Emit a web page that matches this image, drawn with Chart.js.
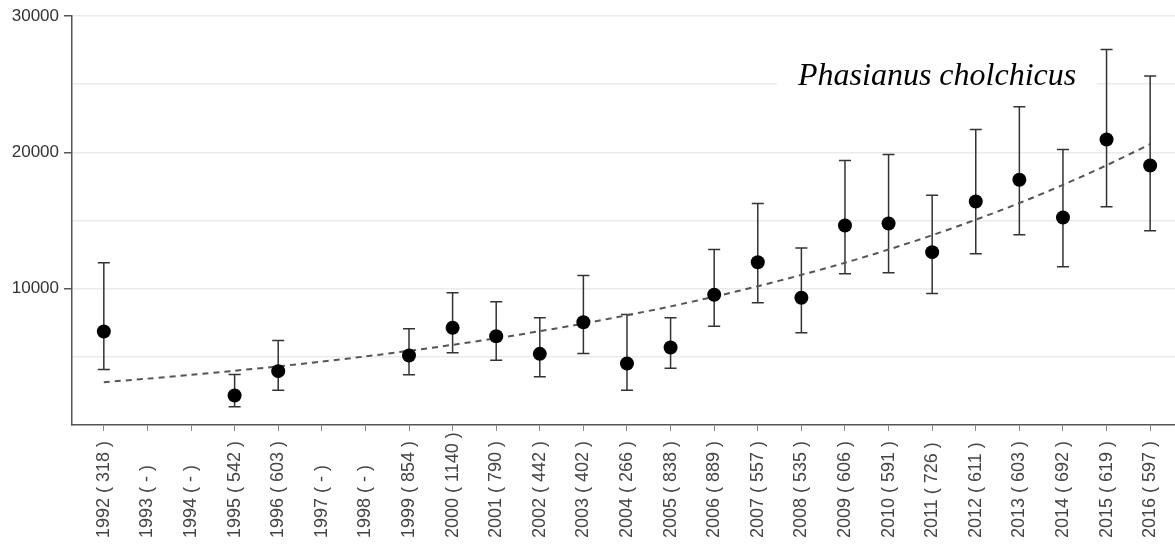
<!DOCTYPE html>
<html>
<head>
<meta charset="utf-8">
<script src="https://cdn.jsdelivr.net/npm/chart.js@4.4.0/dist/chart.umd.min.js"></script>
<style>
  html, body { margin: 0; padding: 0; background: #fff; }
  #wrap { width: 1175px; height: 544px; position: relative; }
</style>
</head>
<body>
<div id="wrap"><canvas id="pheasantChart"></canvas></div>
<script>
// Years and sample sizes (n) shown under each tick
const years = [1992, 1993, 1994, 1995, 1996, 1997, 1998, 1999, 2000, 2001, 2002, 2003, 2004,
               2005, 2006, 2007, 2008, 2009, 2010, 2011, 2012, 2013, 2014, 2015, 2016];
const sampleSizes = ['318', '-', '-', '542', '603', '-', '-', '854', '1140', '790', '442', '402', '266',
                     '838', '889', '557', '535', '606', '591', '726', '611', '603', '692', '619', '597'];

// Population index estimates with lower/upper limits
const estimates = [6860, null, null, 2160, 3950, null, null, 5100, 7130, 6510, 5220, 7540, 4510,
                   5680, 9550, 11940, 9330, 14630, 14780, 12680, 16390, 17990, 15220, 20940, 19030];
const lowerLimits = [4070, null, null, 1330, 2550, null, null, 3680, 5300, 4750, 3530, 5240, 2550,
                     4170, 7250, 8960, 6760, 11090, 11160, 9650, 12560, 13950, 11600, 16010, 14240];
const upperLimits = [11900, null, null, 3700, 6200, null, null, 7060, 9700, 9040, 7860, 10970, 8100,
                     7860, 12870, 16250, 12990, 19400, 19840, 16860, 21670, 23340, 20210, 27540, 25590];

// Dashed trend line values
const trendValues = [3140, 3400, 3680, 3980, 4300, 4650, 5030, 5440, 5880, 6360, 6880, 7440, 8050,
                     8700, 9410, 10180, 11010, 11900, 12870, 13920, 15060, 16280, 17610, 19050, 20600];

const yTicks = [0, 5000, 10000, 15000, 20000, 25000, 30000];
const speciesName = 'Phasianus cholchicus';

const tickLabels = years.map((y, i) => `${y} ( ${sampleSizes[i]} )`);

// error bars with caps, drawn under the points
const errorBarPlugin = {
    id: 'errorBars',
    beforeDatasetsDraw(chart) {
        const { ctx, scales: { x, y } } = chart;
        ctx.save();
        ctx.strokeStyle = '#333';
        ctx.lineWidth = 1.5;
        years.forEach((yr, i) => {
            if (lowerLimits[i] == null) return;
            const px = x.getPixelForValue(yr);
            const top = y.getPixelForValue(upperLimits[i]);
            const bot = y.getPixelForValue(lowerLimits[i]);
            ctx.beginPath();
            ctx.moveTo(px, top); ctx.lineTo(px, bot);
            ctx.moveTo(px - 6, top); ctx.lineTo(px + 6, top);
            ctx.moveTo(px - 6, bot); ctx.lineTo(px + 6, bot);
            ctx.stroke();
        });
        ctx.restore();
    }
};

// species name in the upper right, on a white box over the grid
const titlePlugin = {
    id: 'speciesTitle',
    beforeDatasetsDraw(chart) {
        const { ctx, chartArea } = chart;
        ctx.save();
        ctx.fillStyle = '#fff';
        ctx.fillRect(chartArea.left + 705, 60, 320, 36);
        ctx.fillStyle = '#000';
        ctx.font = 'italic 32px "Liberation Serif", "Times New Roman", serif';
        ctx.textBaseline = 'alphabetic';
        ctx.fillText(speciesName, chartArea.left + 726, 85);
        ctx.restore();
    }
};

// vertical year labels, bottom-aligned like the original
const yearLabelPlugin = {
    id: 'yearLabels',
    afterDraw(chart) {
        const { ctx, scales: { x } } = chart;
        ctx.save();
        ctx.fillStyle = '#444';
        ctx.font = '18px "Liberation Sans", Arial, sans-serif';
        ctx.textAlign = 'left';
        ctx.textBaseline = 'middle';
        years.forEach((yr, i) => {
            ctx.save();
            ctx.translate(x.getPixelForValue(yr), x.bottom - 6);
            ctx.rotate(-Math.PI / 2);
            ctx.fillText(tickLabels[i], 0, 0);
            ctx.restore();
        });
        ctx.restore();
    }
};

const ctx = document.getElementById('pheasantChart').getContext('2d');
new Chart(ctx, {
    type: 'line',
    data: {
        datasets: [
            {
                label: 'Estimate',
                data: years.map((yr, i) => ({ x: yr, y: estimates[i] })),
                showLine: false,
                pointRadius: 7,
                pointBackgroundColor: '#000',
                pointBorderColor: '#000',
                pointBorderWidth: 0,
                order: 0
            },
            {
                label: 'Trend',
                data: years.map((yr, i) => ({ x: yr, y: trendValues[i] })),
                borderColor: '#555',
                borderWidth: 2,
                borderDash: [6, 5],
                pointRadius: 0,
                fill: false,
                tension: 0.3,
                order: 1
            }
        ]
    },
    options: {
        responsive: true,
        maintainAspectRatio: false,
        animation: false,
        layout: { autoPadding: false, padding: { top: 16, right: 0, bottom: 0, left: 0 } },
        plugins: {
            legend: { display: false },
            tooltip: { enabled: false }
        },
        scales: {
            x: {
                type: 'linear',
                min: 1991.27,
                max: 2016.57,
                afterBuildTicks: scale => { scale.ticks = years.map(v => ({ value: v })); },
                afterFit: scale => { scale.paddingRight = 0; scale.height = 119; },
                grid: { drawOnChartArea: false, drawTicks: true, tickLength: 6, color: '#888' },
                border: { color: '#555', width: 1.5 },
                ticks: { display: false, autoSkip: false }
            },
            y: {
                min: 0,
                max: 30000,
                afterBuildTicks: scale => { scale.ticks = yTicks.map(v => ({ value: v })); },
                afterFit: scale => { scale.width = 72; },
                grid: {
                    color: c => (c.tick.value === 0 ? 'rgba(0,0,0,0)' : '#ebebeb'),
                    tickColor: c => (c.tick.value % 10000 === 0 && c.tick.value > 0 ? '#555' : 'rgba(0,0,0,0)'),
                    lineWidth: 1.5,
                    tickLength: 8
                },
                border: { color: '#555', width: 1.5 },
                ticks: {
                    padding: 5,
                    color: '#333',
                    font: { family: '"Liberation Sans", Arial, sans-serif', size: 17 },
                    callback: v => (v % 10000 === 0 && v > 0 ? v : '')
                }
            }
        }
    },
    plugins: [errorBarPlugin, titlePlugin, yearLabelPlugin]
});
</script>
</body>
</html>
